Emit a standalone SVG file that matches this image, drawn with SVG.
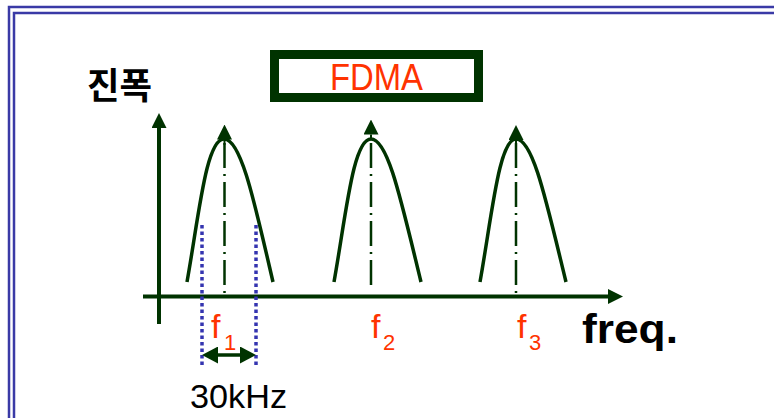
<svg xmlns="http://www.w3.org/2000/svg" width="774" height="418" viewBox="0 0 774 418">
<style>
.frame{fill:none;stroke:#3a3aa6;stroke-width:2.5}
.ax{stroke:#003300;stroke-width:4;fill:none}
.curve{stroke:#003300;stroke-width:3.5;fill:none}
.dd{stroke:#003300;stroke-width:2.5;stroke-dasharray:25 6 2 6;fill:none}
.dot{stroke:#3434b0;stroke-width:3.5;stroke-dasharray:3.5 3;fill:none}
.ah{fill:#003300}
.red{font-family:"Liberation Sans",Arial,sans-serif;fill:#ff3300}
.blk{font-family:"Liberation Sans",Arial,sans-serif;fill:#000}
</style>
<defs>
<marker id="arr" viewBox="0 0 15 15" refX="0" refY="7.5" markerWidth="15" markerHeight="15" markerUnits="userSpaceOnUse" orient="auto">
<path d="M0,0 L15,7.5 L0,15 Z" fill="#003300"/>
</marker>
<marker id="arr2" viewBox="0 0 16 17" refX="1" refY="8.5" markerWidth="16" markerHeight="17" markerUnits="userSpaceOnUse" orient="auto-start-reverse">
<path d="M0,0 L16,8.5 L0,17 Z" fill="#003300"/>
</marker>
</defs>
<rect x="0" y="0" width="774" height="418" fill="#ffffff"/>
<rect x="9" y="7" width="800" height="450" fill="#e4fbe4" class="frame"/>
<rect x="14" y="13" width="800" height="450" fill="#ccffcc" class="frame"/>

<g id="title">
<rect x="274.5" y="54.5" width="204" height="43" fill="none" stroke="#003300" stroke-width="9"/>
<text x="376.5" y="90" class="red" font-size="37" text-anchor="middle" textLength="93" lengthAdjust="spacingAndGlyphs">FDMA</text>
</g>

<g id="ylabel">
<text x="87" y="99" font-family="'Noto Sans CJK KR',sans-serif" font-weight="bold" font-size="36" fill="#000" textLength="65" lengthAdjust="spacingAndGlyphs">진폭</text>
</g>

<g id="connectors">
<line x1="159" y1="324" x2="159" y2="128" class="ax" marker-end="url(#arr)"/>
<line x1="143" y1="296.5" x2="608" y2="296.5" class="ax" marker-end="url(#arr)"/>
</g>

<g id="peak1">
<path d="M187,282 C199,215 206,139 224,139 C241,139 254,200 273,282" class="curve"/>
<line x1="224.5" y1="143" x2="224.5" y2="294" class="dd"/>
<line x1="224.5" y1="145" x2="224.5" y2="139.5" stroke="#003300" stroke-width="2" marker-end="url(#arr)"/>
</g>
<g id="peak2">
<path d="M334,282 C346,215 353,139 371,139 C388,139 401,200 421,282" class="curve"/>
<line x1="371" y1="143" x2="371" y2="289" class="dd"/>
<line x1="371" y1="140" x2="371" y2="134.5" stroke="#003300" stroke-width="2" marker-end="url(#arr)"/>
</g>
<g id="peak3">
<path d="M480,282 C492,215 499,139 516,139 C533,139 546,200 566,282" class="curve"/>
<line x1="516" y1="143" x2="516" y2="294" class="dd"/>
<line x1="516" y1="145" x2="516" y2="140" stroke="#003300" stroke-width="2" marker-end="url(#arr)"/>
</g>

<g id="bandwidth">
<line x1="202" y1="225" x2="202" y2="366" class="dot"/>
<line x1="256" y1="225" x2="256" y2="366" class="dot"/>
<line x1="217" y1="355" x2="241" y2="355" stroke="#003300" stroke-width="3.5" marker-start="url(#arr2)" marker-end="url(#arr2)"/>
<text x="190" y="408" class="blk" font-size="33" textLength="97" lengthAdjust="spacingAndGlyphs">30kHz</text>
</g>

<g id="labels">
<text x="211" y="338" class="red" font-size="34">f</text>
<text x="224" y="350" class="red" font-size="22">1</text>
<text x="371" y="338" class="red" font-size="34">f</text>
<text x="383" y="350" class="red" font-size="22">2</text>
<text x="517" y="338" class="red" font-size="34">f</text>
<text x="529" y="350" class="red" font-size="22">3</text>
<text x="582" y="343" class="blk" font-size="41" font-weight="bold" textLength="96" lengthAdjust="spacingAndGlyphs">freq.</text>
</g>
</svg>
